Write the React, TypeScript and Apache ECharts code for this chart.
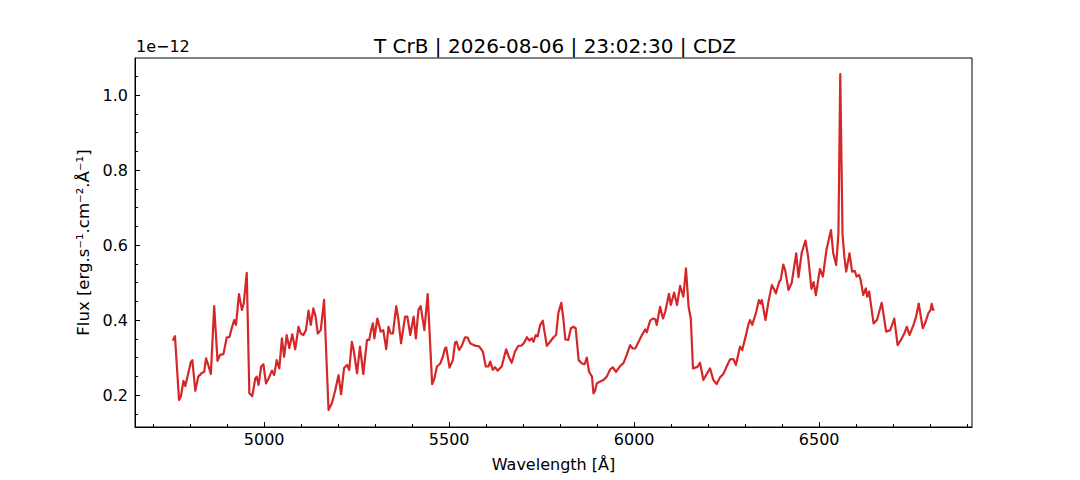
import React, { useEffect, useRef } from "react";
import * as echarts from "echarts";

const wavelength = [
  4753, 4759, 4770, 4775, 4782, 4787, 4795, 4802, 4806, 4814, 4822, 4832, 4838, 4843, 4849, 4856, 4865, 4874, 4881, 4890,
  4899, 4906, 4911, 4919, 4924, 4932, 4940, 4945, 4953, 4960, 4968, 4976, 4980, 4985, 4992, 4998, 5005, 5012, 5021, 5027,
  5034, 5041, 5048, 5054, 5061, 5068, 5076, 5084, 5093, 5099, 5106, 5113, 5120, 5126, 5133, 5139, 5145, 5153, 5162, 5174,
  5183, 5192, 5201, 5208, 5216, 5224, 5230, 5237, 5242, 5251, 5259, 5268, 5278, 5284, 5289, 5294, 5298, 5306, 5315, 5322,
  5330, 5336, 5342, 5348, 5357, 5363, 5370, 5381, 5387, 5395, 5404, 5410, 5417, 5423, 5433, 5442, 5454, 5460, 5467, 5476,
  5483, 5489, 5492, 5501, 5510, 5516, 5520, 5527, 5534, 5543, 5550, 5557, 5566, 5573, 5581, 5591, 5599, 5606, 5611, 5618,
  5624, 5631, 5642, 5654, 5662, 5669, 5678, 5687, 5696, 5703, 5710, 5717, 5723, 5728, 5734, 5739, 5746, 5753, 5757, 5764,
  5773, 5782, 5789, 5795, 5803, 5809, 5814, 5822, 5829, 5836, 5842, 5850, 5859, 5866, 5872, 5878, 5886, 5890, 5894, 5899,
  5908, 5917, 5926, 5935, 5942, 5951, 5962, 5971, 5980, 5989, 5996, 6003, 6012, 6021, 6030, 6034, 6043, 6050, 6057, 6061,
  6070, 6078, 6084, 6094, 6099, 6108, 6116, 6124, 6133, 6140, 6147, 6153, 6159, 6165, 6171, 6178, 6187, 6196, 6205, 6214,
  6223, 6232, 6241, 6250, 6259, 6268, 6275, 6286, 6292, 6300, 6309, 6313, 6319, 6330, 6337, 6342, 6345, 6355, 6363, 6372,
  6377, 6383, 6392, 6396, 6403, 6408, 6417, 6426, 6438, 6444, 6453, 6463, 6470, 6479, 6485, 6491, 6502, 6510, 6520, 6532,
  6538, 6546, 6552, 6557, 6563, 6568, 6573, 6582, 6589, 6596, 6601, 6608, 6612, 6619, 6626, 6630, 6635, 6647, 6656, 6669,
  6681, 6692, 6703, 6712, 6721, 6730, 6737, 6744, 6755, 6762, 6769, 6780, 6786, 6795, 6801, 6804, 6808, 6811,
];

const flux = [
  0.345, 0.357, 0.187, 0.196, 0.238, 0.224, 0.258, 0.288, 0.293, 0.211, 0.249, 0.259, 0.262, 0.298, 0.28, 0.256, 0.437, 0.291, 0.307, 0.309,
  0.354, 0.354, 0.373, 0.4, 0.387, 0.469, 0.427, 0.445, 0.526, 0.205, 0.197, 0.244, 0.249, 0.227, 0.276, 0.282, 0.231, 0.244, 0.265, 0.253,
  0.293, 0.271, 0.351, 0.302, 0.36, 0.325, 0.362, 0.322, 0.382, 0.364, 0.36, 0.373, 0.425, 0.387, 0.431, 0.409, 0.364, 0.373, 0.454, 0.16,
  0.178, 0.212, 0.253, 0.202, 0.272, 0.28, 0.267, 0.342, 0.32, 0.258, 0.329, 0.256, 0.347, 0.347, 0.373, 0.391, 0.351, 0.404, 0.369, 0.373,
  0.322, 0.382, 0.364, 0.364, 0.437, 0.4, 0.338, 0.409, 0.409, 0.36, 0.409, 0.351, 0.427, 0.437, 0.373, 0.469, 0.229, 0.244, 0.276, 0.284,
  0.302, 0.325, 0.327, 0.273, 0.293, 0.34, 0.342, 0.32, 0.331, 0.354, 0.353, 0.338, 0.333, 0.331, 0.33, 0.316, 0.276, 0.276, 0.289, 0.267,
  0.274, 0.265, 0.276, 0.322, 0.3, 0.286, 0.316, 0.331, 0.332, 0.34, 0.354, 0.345, 0.351, 0.342, 0.36, 0.356, 0.387, 0.398, 0.373, 0.331,
  0.342, 0.354, 0.36, 0.418, 0.446, 0.4, 0.348, 0.347, 0.378, 0.382, 0.378, 0.293, 0.284, 0.282, 0.3, 0.262, 0.249, 0.204, 0.21, 0.231,
  0.236, 0.24, 0.249, 0.268, 0.274, 0.262, 0.277, 0.285, 0.307, 0.333, 0.324, 0.324, 0.342, 0.36, 0.375, 0.367, 0.398, 0.404, 0.402, 0.387,
  0.435, 0.404, 0.422, 0.47, 0.44, 0.473, 0.44, 0.491, 0.462, 0.538, 0.436, 0.404, 0.271, 0.273, 0.275, 0.286, 0.24, 0.256, 0.271, 0.24,
  0.229, 0.247, 0.256, 0.276, 0.295, 0.296, 0.28, 0.329, 0.32, 0.351, 0.389, 0.4, 0.387, 0.422, 0.453, 0.444, 0.453, 0.4, 0.449, 0.493,
  0.484, 0.471, 0.502, 0.507, 0.548, 0.533, 0.48, 0.5, 0.578, 0.514, 0.58, 0.612, 0.57, 0.483, 0.501, 0.466, 0.536, 0.516, 0.589, 0.64,
  0.578, 0.547, 0.631, 1.056, 0.631, 0.569, 0.529, 0.578, 0.529, 0.531, 0.516, 0.52, 0.507, 0.467, 0.484, 0.462, 0.476, 0.391, 0.4, 0.446,
  0.369, 0.373, 0.404, 0.333, 0.347, 0.364, 0.382, 0.36, 0.387, 0.409, 0.444, 0.378, 0.391, 0.418, 0.427, 0.443, 0.427, 0.429,
];

const majorXTicks = [5000, 5500, 6000, 6500];
const minorXTicks = [
  4700, 4800, 4900, 5100, 5200, 5300, 5400, 5600, 5700, 5800, 5900, 6100, 6200, 6300, 6400, 6600, 6700, 6800, 6900,
];
const majorYTicks = [0.2, 0.4, 0.6, 0.8, 1.0];
const minorYTicks = [0.15, 0.25, 0.3, 0.35, 0.45, 0.5, 0.55, 0.65, 0.7, 0.75, 0.85, 0.9, 0.95, 1.05];

const titleText = "T CrB | 2026-08-06 | 23:02:30 | CDZ";
const xName = "Wavelength [Å]";
const yName = "Flux [erg.s⁻¹.cm⁻².Å⁻¹]";
const offsetText = "1e−12";

const FONT = "DejaVu Sans";
const FS = 16;

export default function App() {
  const ref = useRef<HTMLDivElement>(null);
  useEffect(() => {
    if (!ref.current) return;
    const chart = echarts.init(ref.current, undefined, { renderer: "svg" });
    const data = wavelength.map((w, i) => [w, flux[i]]);
    const X_MIN = 4651;
    const X_MAX = 6913;
    const Y_MIN = 0.1147;
    const Y_MAX = 1.0987;
    const axisLineStyle = { color: "#000", width: 1 };
    chart.setOption({
      animation: false,
      backgroundColor: "#fff",
      title: {
        text: titleText,
        left: 550,
        top: 31,
        textAlign: "center",
        textStyle: { fontFamily: FONT, fontSize: 20, fontWeight: "normal", color: "#000" },
      },
      graphic: [
        {
          type: "text",
          left: 136,
          top: 38,
          style: { text: offsetText, font: `${FS}px '${FONT}'`, fill: "#000" },
        },
      ],
      grid: {
        left: 135,
        right: 108,
        top: 58,
        bottom: 53,
        show: true,
        borderColor: "#000",
        borderWidth: 1,
        backgroundColor: "transparent",
      },
      xAxis: [
        {
          type: "value",
          min: X_MIN,
          max: X_MAX,
          position: "bottom",
          axisLine: { show: true, lineStyle: axisLineStyle },
          axisTick: { show: true, inside: true, length: 5, customValues: majorXTicks, lineStyle: axisLineStyle },
          axisLabel: {
            customValues: majorXTicks,
            color: "#000",
            fontFamily: FONT,
            fontSize: FS,
            margin: 4,
            formatter: (v: number) => String(v),
          },
          splitLine: { show: false },
          name: xName,
          nameLocation: "middle",
          nameGap: 29,
          nameTextStyle: { fontFamily: FONT, fontSize: FS, color: "#000" },
        },
        {
          type: "value",
          min: X_MIN,
          max: X_MAX,
          position: "bottom",
          offset: 0,
          axisLine: { show: false },
          axisTick: { show: true, inside: true, length: 3, customValues: minorXTicks, lineStyle: axisLineStyle },
          axisLabel: { show: false },
          splitLine: { show: false },
        },
      ],
      yAxis: [
        {
          type: "value",
          min: Y_MIN,
          max: Y_MAX,
          position: "left",
          axisLine: { show: true, lineStyle: axisLineStyle },
          axisTick: { show: true, inside: true, length: 5, customValues: majorYTicks, lineStyle: axisLineStyle },
          axisLabel: {
            customValues: majorYTicks,
            color: "#000",
            fontFamily: FONT,
            fontSize: FS,
            margin: 7,
            formatter: (v: number) => v.toFixed(1),
          },
          splitLine: { show: false },
          name: yName,
          nameLocation: "middle",
          nameGap: 38,
          nameRotate: 90,
          nameTextStyle: { fontFamily: FONT, fontSize: 16.5, color: "#000" },
        },
        {
          type: "value",
          min: Y_MIN,
          max: Y_MAX,
          position: "left",
          offset: 0,
          axisLine: { show: false },
          axisTick: { show: true, inside: true, length: 3, customValues: minorYTicks, lineStyle: axisLineStyle },
          axisLabel: { show: false },
          splitLine: { show: false },
        },
      ],
      series: [
        {
          type: "line",
          data,
          xAxisIndex: 0,
          yAxisIndex: 0,
          showSymbol: false,
          symbol: "none",
          smooth: false,
          lineStyle: { color: "#d62728", width: 2.2, join: "round" },
          itemStyle: { color: "#d62728" },
        },
      ],
    });
    return () => chart.dispose();
  }, []);
  return <div ref={ref} style={{ position: "absolute", left: 0, top: 0, width: 1080, height: 480 }} />;
}
